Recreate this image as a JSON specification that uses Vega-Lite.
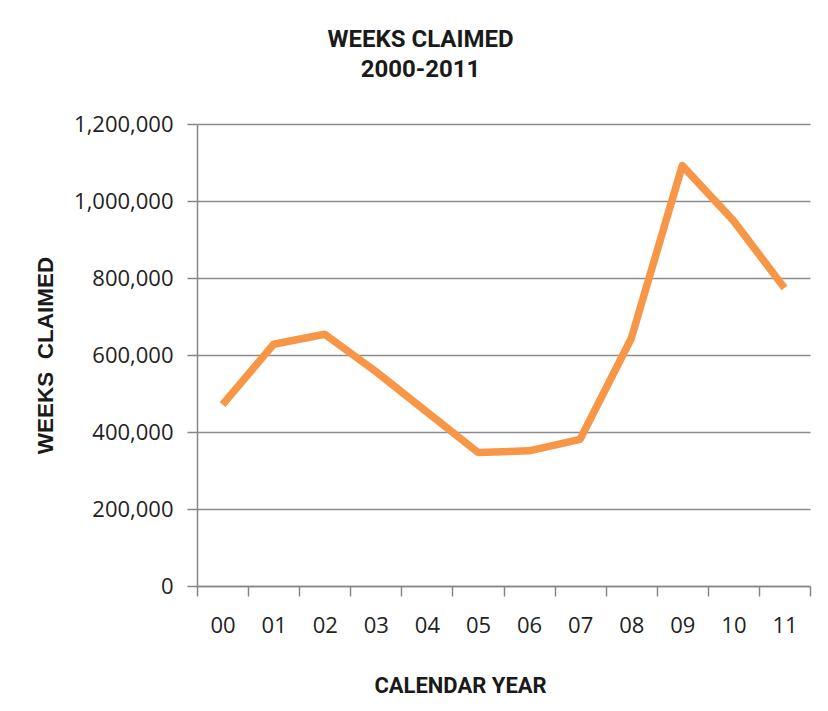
{
  "$schema": "https://vega.github.io/schema/vega-lite/v6.json",
  "autosize": "none",
  "width": 613,
  "height": 462,
  "padding": {"left": 197, "top": 124, "right": 18, "bottom": 125},
  "background": "white",
  "title": {
    "text": ["WEEKS CLAIMED", "2000-2011"],
    "font": "Roboto",
    "fontWeight": "bold",
    "fontSize": 24,
    "lineHeight": 30,
    "color": "#1a1a1a",
    "anchor": "middle",
    "dx": -83,
    "offset": 31
  },
  "data": {
    "values": [
      {"year": "00", "weeks": 471000},
      {"year": "01", "weeks": 628000},
      {"year": "02", "weeks": 654000},
      {"year": "03", "weeks": 557000},
      {"year": "04", "weeks": 452000},
      {"year": "05", "weeks": 347000},
      {"year": "06", "weeks": 351000},
      {"year": "07", "weeks": 381000},
      {"year": "08", "weeks": 643000},
      {"year": "09", "weeks": 1092000},
      {"year": "10", "weeks": 949000},
      {"year": "11", "weeks": 774000}
    ]
  },
  "mark": {"type": "line", "color": "#F79646", "strokeWidth": 7.5, "strokeJoin": "round", "strokeCap": "butt"},
  "encoding": {
    "x": {
      "field": "year",
      "type": "ordinal",
      "scale": {"type": "band", "paddingInner": 0, "paddingOuter": 0},
      "axis": {
        "title": "CALENDAR YEAR",
        "titleFont": "Roboto",
        "titleFontWeight": "bold",
        "titleFontSize": 22,
        "titleColor": "#1a1a1a",
        "titleX": 263,
        "titleY": 106,
        "titleAlign": "center",
        "titleBaseline": "alphabetic",
        "labelAngle": 0,
        "labelFont": "Open Sans",
        "labelFontSize": 22,
        "labelColor": "#222222",
        "labelPadding": 19,
        "tickBand": "extent",
        "tickSize": 10,
        "tickColor": "#868686",
        "tickWidth": 1.5,
        "domainColor": "#868686",
        "domainWidth": 1.5,
        "grid": false
      }
    },
    "y": {
      "field": "weeks",
      "type": "quantitative",
      "scale": {"domain": [0, 1200000]},
      "axis": {
        "title": "WEEKS\u00a0\u00a0CLAIMED",
        "titleFont": "Liberation Sans",
        "titleFontWeight": "bold",
        "titleFontSize": 22.5,
        "titleColor": "#1a1a1a",
        "titleAngle": 270,
        "titleX": -145,
        "titleY": 231,
        "titleAlign": "center",
        "titleBaseline": "alphabetic",
        "values": [0, 200000, 400000, 600000, 800000, 1000000, 1200000],
        "format": ",d",
        "labelFont": "Open Sans",
        "labelFontSize": 22,
        "labelColor": "#222222",
        "labelPadding": 14,
        "tickSize": 10,
        "tickColor": "#868686",
        "tickWidth": 1.5,
        "domainColor": "#868686",
        "domainWidth": 1.5,
        "grid": true,
        "gridColor": "#8c8c8c",
        "gridWidth": 1.5
      }
    }
  },
  "config": {
    "view": {"stroke": null}
  }
}
